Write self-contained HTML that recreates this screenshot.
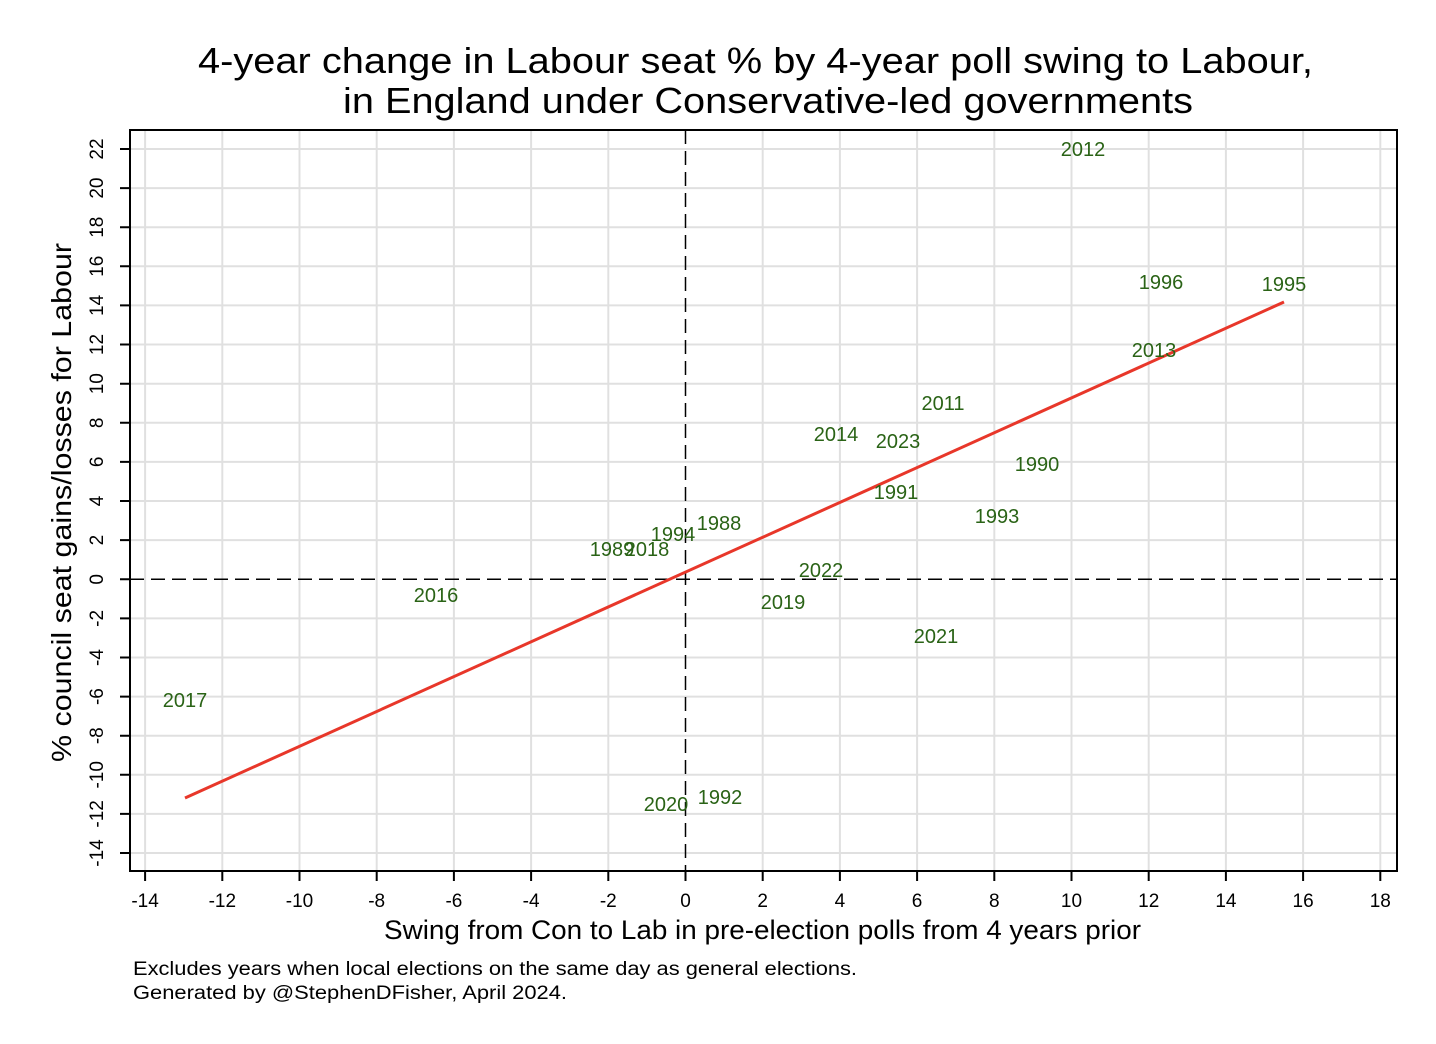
<!DOCTYPE html>
<html><head><meta charset="utf-8"><style>body{margin:0;background:#fff}svg{display:block}</style></head><body>
<svg width="1436" height="1044" xmlns="http://www.w3.org/2000/svg" font-family="Liberation Sans, Arial, sans-serif">
<rect width="1436" height="1044" fill="#fff"/>
<text x="198" y="73" font-size="36" textLength="1115" lengthAdjust="spacingAndGlyphs">4-year change in Labour seat % by 4-year poll swing to Labour,</text>
<text x="343" y="113" font-size="36" textLength="850" lengthAdjust="spacingAndGlyphs">in England under Conservative-led governments</text>
<g stroke="#e0e0e0" stroke-width="2">
<line x1="145.1" y1="130" x2="145.1" y2="871"/><line x1="222.3" y1="130" x2="222.3" y2="871"/><line x1="299.5" y1="130" x2="299.5" y2="871"/><line x1="376.7" y1="130" x2="376.7" y2="871"/><line x1="453.9" y1="130" x2="453.9" y2="871"/><line x1="531.1" y1="130" x2="531.1" y2="871"/><line x1="608.3" y1="130" x2="608.3" y2="871"/><line x1="762.7" y1="130" x2="762.7" y2="871"/><line x1="839.9" y1="130" x2="839.9" y2="871"/><line x1="917.1" y1="130" x2="917.1" y2="871"/><line x1="994.3" y1="130" x2="994.3" y2="871"/><line x1="1071.5" y1="130" x2="1071.5" y2="871"/><line x1="1148.7" y1="130" x2="1148.7" y2="871"/><line x1="1225.9" y1="130" x2="1225.9" y2="871"/><line x1="1303.1" y1="130" x2="1303.1" y2="871"/><line x1="1380.3" y1="130" x2="1380.3" y2="871"/>
<line x1="130" y1="149" x2="1397" y2="149"/><line x1="130" y1="188.1" x2="1397" y2="188.1"/><line x1="130" y1="227.2" x2="1397" y2="227.2"/><line x1="130" y1="266.3" x2="1397" y2="266.3"/><line x1="130" y1="305.4" x2="1397" y2="305.4"/><line x1="130" y1="344.5" x2="1397" y2="344.5"/><line x1="130" y1="383.7" x2="1397" y2="383.7"/><line x1="130" y1="422.8" x2="1397" y2="422.8"/><line x1="130" y1="461.9" x2="1397" y2="461.9"/><line x1="130" y1="501" x2="1397" y2="501"/><line x1="130" y1="540.1" x2="1397" y2="540.1"/><line x1="130" y1="618.4" x2="1397" y2="618.4"/><line x1="130" y1="657.5" x2="1397" y2="657.5"/><line x1="130" y1="696.6" x2="1397" y2="696.6"/><line x1="130" y1="735.7" x2="1397" y2="735.7"/><line x1="130" y1="774.8" x2="1397" y2="774.8"/><line x1="130" y1="813.9" x2="1397" y2="813.9"/><line x1="130" y1="853" x2="1397" y2="853"/>
</g>
<g stroke="#000" stroke-width="1.5" stroke-dasharray="14,7">
<line x1="685.5" y1="130" x2="685.5" y2="871"/><line x1="130" y1="579.3" x2="1397" y2="579.3"/>
</g>
<rect x="130" y="130" width="1267" height="741" fill="none" stroke="#000" stroke-width="2"/>
<line x1="185" y1="798" x2="1284" y2="302" stroke="#e8372a" stroke-width="3"/>
<g stroke="#000" stroke-width="2">
<path d="M145.1 871v10M222.3 871v10M299.5 871v10M376.7 871v10M453.9 871v10M531.1 871v10M608.3 871v10M685.5 871v10M762.7 871v10M839.9 871v10M917.1 871v10M994.3 871v10M1071.5 871v10M1148.7 871v10M1225.9 871v10M1303.1 871v10M1380.3 871v10"/>
<path d="M130 149h-10M130 188.1h-10M130 227.2h-10M130 266.3h-10M130 305.4h-10M130 344.5h-10M130 383.7h-10M130 422.8h-10M130 461.9h-10M130 501h-10M130 540.1h-10M130 579.3h-10M130 618.4h-10M130 657.5h-10M130 696.6h-10M130 735.7h-10M130 774.8h-10M130 813.9h-10M130 853h-10"/>
</g>
<g font-size="19" text-anchor="middle">
<text x="145.1" y="907">-14</text><text x="222.3" y="907">-12</text><text x="299.5" y="907">-10</text><text x="376.7" y="907">-8</text><text x="453.9" y="907">-6</text><text x="531.1" y="907">-4</text><text x="608.3" y="907">-2</text><text x="685.5" y="907">0</text><text x="762.7" y="907">2</text><text x="839.9" y="907">4</text><text x="917.1" y="907">6</text><text x="994.3" y="907">8</text><text x="1071.5" y="907">10</text><text x="1148.7" y="907">12</text><text x="1225.9" y="907">14</text><text x="1303.1" y="907">16</text><text x="1380.3" y="907">18</text>
</g>
<g font-size="19" text-anchor="middle">
<text transform="translate(103,149) rotate(-90)">22</text><text transform="translate(103,188.1) rotate(-90)">20</text><text transform="translate(103,227.2) rotate(-90)">18</text><text transform="translate(103,266.3) rotate(-90)">16</text><text transform="translate(103,305.4) rotate(-90)">14</text><text transform="translate(103,344.5) rotate(-90)">12</text><text transform="translate(103,383.7) rotate(-90)">10</text><text transform="translate(103,422.8) rotate(-90)">8</text><text transform="translate(103,461.9) rotate(-90)">6</text><text transform="translate(103,501) rotate(-90)">4</text><text transform="translate(103,540.1) rotate(-90)">2</text><text transform="translate(103,579.3) rotate(-90)">0</text><text transform="translate(103,618.4) rotate(-90)">-2</text><text transform="translate(103,657.5) rotate(-90)">-4</text><text transform="translate(103,696.6) rotate(-90)">-6</text><text transform="translate(103,735.7) rotate(-90)">-8</text><text transform="translate(103,774.8) rotate(-90)">-10</text><text transform="translate(103,813.9) rotate(-90)">-12</text><text transform="translate(103,853) rotate(-90)">-14</text>
</g>
<text x="384" y="939" font-size="27" textLength="757" lengthAdjust="spacingAndGlyphs">Swing from Con to Lab in pre-election polls from 4 years prior</text>
<text transform="translate(71,762) rotate(-90)" font-size="28" textLength="519" lengthAdjust="spacingAndGlyphs">% council seat gains/losses for Labour</text>
<g font-size="20" fill="#2a6316" text-anchor="middle">
<text x="1083" y="156">2012</text><text x="1161" y="289">1996</text><text x="1284" y="291">1995</text><text x="1154" y="357">2013</text><text x="943" y="410">2011</text><text x="836" y="441">2014</text><text x="898" y="448">2023</text><text x="1037" y="471">1990</text><text x="896" y="499">1991</text><text x="997" y="523">1993</text><text x="719" y="530">1988</text><text x="673" y="541">1994</text><text x="612" y="556">1989</text><text x="647" y="556">2018</text><text x="821" y="577">2022</text><text x="436" y="602">2016</text><text x="783" y="609">2019</text><text x="936" y="643">2021</text><text x="185" y="707">2017</text><text x="666" y="811">2020</text><text x="720" y="804">1992</text>
</g>
<text x="133" y="975" font-size="19" textLength="724" lengthAdjust="spacingAndGlyphs">Excludes years when local elections on the same day as general elections.</text>
<text x="133" y="999" font-size="19" textLength="434" lengthAdjust="spacingAndGlyphs">Generated by @StephenDFisher, April 2024.</text>
</svg>
</body></html>
